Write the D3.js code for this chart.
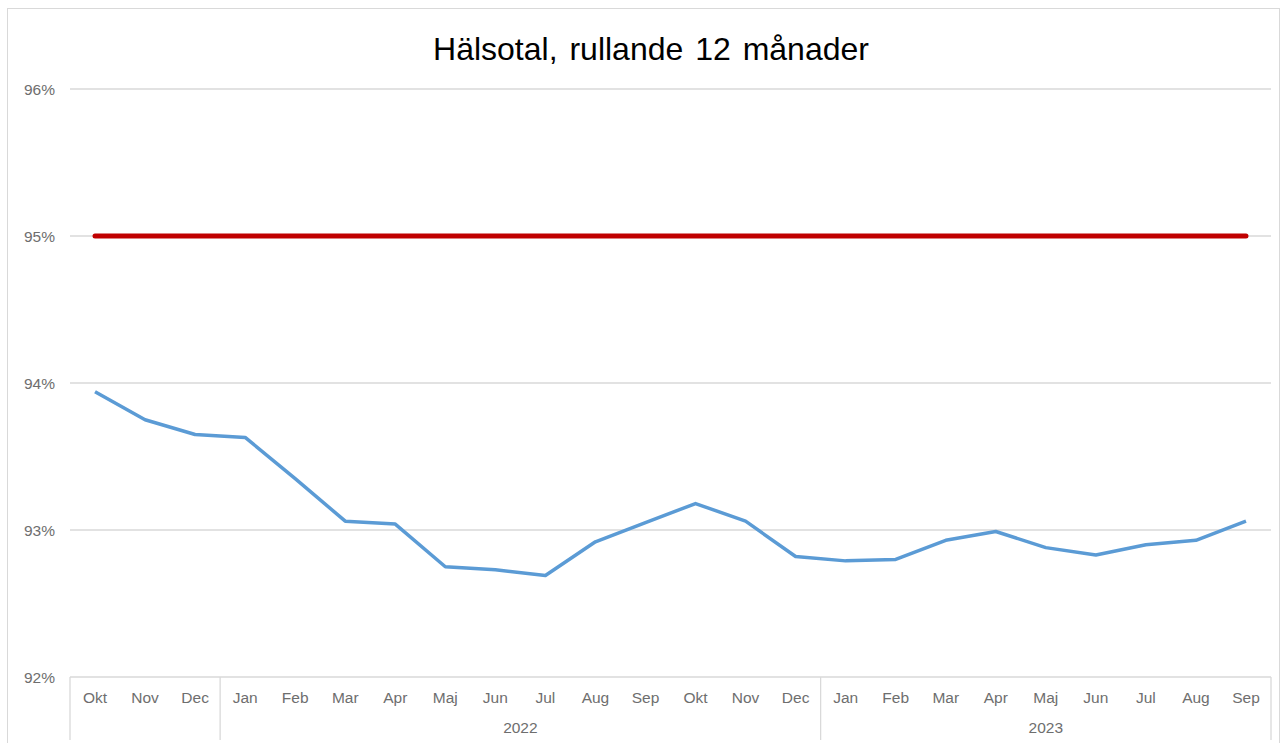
<!DOCTYPE html>
<html>
<head>
<meta charset="utf-8">
<script src="https://cdn.jsdelivr.net/npm/d3@7"></script>
<style>
  body { margin: 0; background: #fff; }
  svg { font-family: "Liberation Sans", Arial, sans-serif; }
</style>
</head>
<body>
<script>
const months = ["Okt","Nov","Dec","Jan","Feb","Mar","Apr","Maj","Jun","Jul","Aug","Sep","Okt","Nov","Dec","Jan","Feb","Mar","Apr","Maj","Jun","Jul","Aug","Sep"];
const years = [
  {label: "", from: 0, to: 2},
  {label: "2022", from: 3, to: 14},
  {label: "2023", from: 15, to: 23}
];
const halsotal = [93.94,93.75,93.65,93.63,93.35,93.06,93.04,92.75,92.73,92.69,92.92,93.05,93.18,93.06,92.82,92.79,92.80,92.93,92.99,92.88,92.83,92.90,92.93,93.06];
const mal = 95;
const yTicks = [92,93,94,95,96];

const W = 1283, H = 743;
const plotLeft = 70, plotRight = 1271, plotTop = 89, plotBottom = 677;

const svg = d3.select("body").append("svg")
  .attr("width", W).attr("height", H);

svg.append("rect")
  .attr("x", 7.5).attr("y", 8.5).attr("width", 1272).attr("height", 745)
  .attr("fill", "none").attr("stroke", "#d9d9d9");

const x = d3.scaleBand().domain(d3.range(months.length)).range([plotLeft, plotRight]);
const y = d3.scaleLinear().domain([92, 96]).range([plotBottom, plotTop]);

svg.append("text")
  .attr("x", 651).attr("y", 60)
  .attr("text-anchor", "middle")
  .attr("font-size", 32)
  .attr("word-spacing", 3)
  .attr("fill", "#000")
  .text("Hälsotal, rullande 12 månader");

// gridlines
svg.selectAll("line.grid")
  .data(yTicks.filter(d => d > 92))
  .join("line")
  .attr("class", "grid")
  .attr("x1", plotLeft).attr("x2", plotRight)
  .attr("y1", d => y(d)).attr("y2", d => y(d))
  .attr("stroke", "#d9d9d9").attr("stroke-width", 1.3);

svg.selectAll("text.ylab")
  .data(yTicks)
  .join("text")
  .attr("class", "ylab")
  .attr("x", 55).attr("y", d => y(d) + 6)
  .attr("text-anchor", "end")
  .attr("font-size", 15.5)
  .attr("fill", "#6e6e6e")
  .text(d => d + "%");

// category axis box
svg.append("line")
  .attr("x1", plotLeft).attr("x2", plotRight)
  .attr("y1", plotBottom).attr("y2", plotBottom)
  .attr("stroke", "#d9d9d9").attr("stroke-width", 1.3);

const seps = [plotLeft, ...years.slice(1).map(g => x(g.from)), plotRight];
svg.selectAll("line.sep")
  .data(seps)
  .join("line")
  .attr("class", "sep")
  .attr("x1", d => d).attr("x2", d => d)
  .attr("y1", plotBottom).attr("y2", 740)
  .attr("stroke", "#d9d9d9").attr("stroke-width", 1.3);

svg.selectAll("text.month")
  .data(months)
  .join("text")
  .attr("class", "month")
  .attr("x", (d, i) => x(i) + x.bandwidth() / 2)
  .attr("y", 703)
  .attr("text-anchor", "middle")
  .attr("font-size", 15.5)
  .attr("fill", "#6e6e6e")
  .text(d => d);

svg.selectAll("text.year")
  .data(years)
  .join("text")
  .attr("class", "year")
  .attr("x", d => (x(d.from) + x(d.to) + x.bandwidth()) / 2)
  .attr("y", 733)
  .attr("text-anchor", "middle")
  .attr("font-size", 15.5)
  .attr("fill", "#6e6e6e")
  .text(d => d.label);

const cx = i => x(i) + x.bandwidth() / 2;

// target line
svg.append("path")
  .datum(months.map(() => mal))
  .attr("fill", "none")
  .attr("stroke", "#c00000")
  .attr("stroke-width", 5)
  .attr("stroke-linecap", "round")
  .attr("d", d3.line().x((d, i) => cx(i)).y(d => y(d)));

svg.append("path")
  .datum(halsotal)
  .attr("fill", "none")
  .attr("stroke", "#5b9bd5")
  .attr("stroke-width", 3.5)
  .attr("stroke-linejoin", "round")
  .attr("d", d3.line().x((d, i) => cx(i)).y(d => y(d)));
</script>
</body>
</html>
